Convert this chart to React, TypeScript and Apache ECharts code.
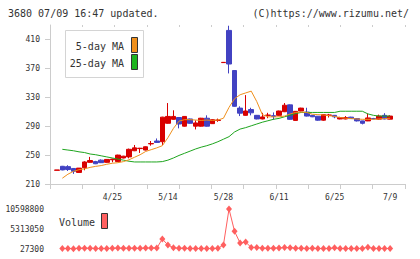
import React, { useEffect, useRef } from "react";
import * as echarts from "echarts";

const categories = [
  "4/11","4/12","4/15","4/16","4/17","4/18","4/19","4/22","4/23","4/24",
  "4/25","4/26","4/30","5/1","5/2","5/7","5/8","5/9","5/10","5/13",
  "5/14","5/15","5/16","5/17","5/20","5/21","5/22","5/23","5/24","5/27",
  "5/28","5/29","5/30","5/31","6/3","6/4","6/5","6/6","6/7","6/10",
  "6/11","6/12","6/13","6/14","6/17","6/18","6/19","6/20","6/21","6/24",
  "6/25","6/26","6/27","6/28","7/1","7/2","7/3","7/4","7/5","7/8","7/9",
];

// [open, close, low, high]
const ohlc = [
  [229, 229.4, 229, 229.4],
  [234.5, 229.5, 229, 235],
  [234, 230, 228, 236],
  [231.5, 227.5, 224, 232],
  [226, 232, 225.5, 232],
  [232.5, 240.5, 229, 241.5],
  [240, 242.5, 239.5, 247.5],
  [241, 238, 237.5, 242],
  [243, 239.5, 239, 244],
  [240, 244, 239.5, 244.5],
  [243.5, 244.5, 240, 245],
  [241, 250, 240.5, 250.5],
  [246, 248.5, 245.5, 249],
  [247.5, 258, 245.5, 259],
  [256, 260, 255.5, 264],
  [259, 259.5, 253, 260],
  [257, 261.5, 256.5, 262],
  [265.5, 266, 263, 269.5],
  [269.5, 267.5, 267, 273],
  [268.5, 302.5, 264, 303],
  [294, 303.5, 293.5, 322],
  [299.5, 303.5, 299, 312],
  [302, 293, 287, 302.5],
  [290, 303.5, 289.5, 304],
  [300, 294, 293.5, 300.5],
  [290, 294.5, 285.5, 298],
  [290, 301, 289.5, 301.5],
  [301, 290, 289.5, 305],
  [293.5, 299, 293, 299.5],
  [298, 298.5, 296, 300.5],
  [378, 378.3, 378, 378.3],
  [422.5, 376, 363, 429],
  [367, 317.5, 317, 367.5],
  [315, 308, 304, 317.5],
  [305, 311, 304.5, 333],
  [313, 308.5, 305, 315.5],
  [305, 300, 299.5, 305.5],
  [300, 302.8, 299.5, 308.5],
  [305, 305.3, 301, 308.5],
  [304.5, 303.5, 299, 309],
  [305, 311, 304.5, 311.5],
  [310, 319, 309.5, 322],
  [319.5, 299.5, 299, 320],
  [298, 310.5, 297.5, 311],
  [311, 315, 310.5, 315.5],
  [309.5, 304, 303.5, 315.5],
  [305, 303, 302.5, 305.5],
  [303.8, 298.3, 297.5, 304],
  [298.3, 306, 297.5, 306.5],
  [305, 305.5, 302, 307],
  [305, 303, 301, 305.5],
  [300, 302, 299.5, 303],
  [300, 302, 299.5, 304],
  [302.5, 300.5, 300, 303],
  [300.5, 297.3, 296.5, 301],
  [297.3, 294, 292.5, 297.5],
  [297.3, 301.4, 297, 307.5],
  [300.5, 300, 299.5, 301.5],
  [299.7, 304, 299, 306],
  [305, 300, 299.5, 308],
  [299.7, 304, 299.5, 305],
];

const ma5 = [
  null, 218, 223.5, 227.5, 229.8, 231, 233, 234.4, 235.5, 237.3,
  238.7, 239.5, 241, 243.5, 247, 250.5, 255, 257.5, 260, 263,
  274, 287, 297, 299, 299, 298.5, 298, 298.5, 298, 298.5,
  301, 316, 328, 333.5, 336, 338.5, 324, 306, 303, 302.8,
  303, 304, 307, 309, 309.5, 309, 306.5, 306, 305.5, 304.5,
  303.5, 302, 301, 300.5, 300, 299.5, 299.5, 299.5, 300, 300.5, 301,
];

const ma25 = [
  null, 258, 257, 256, 254.5, 253.5, 251.5, 250.5, 249, 247.5,
  246, 244.5, 243, 241.5, 240.5, 240.5, 240.5, 240.5, 240.5, 241,
  243, 246, 249.5, 252.5, 255.5, 258.5, 261, 263, 265.5, 268.5,
  272, 275.5, 282, 286, 288, 290.5, 293, 295.5, 297.5, 299.5,
  300.8, 303, 305, 307.5, 309, 309, 309, 309, 309, 309,
  309, 310.7, 310.7, 310.7, 310.7, 310.7, 307, 305, 304, 304, 304,
];

const volume = [
  null, 150000, 180000, 120000, 200000, 250000, 220000, 160000, 140000, 180000,
  200000, 260000, 210000, 240000, 230000, 200000, 280000, 300000, 260000, 2670000,
  1080000, 370000, 250000, 200000, 180000, 150000, 170000, 160000, 140000, 200000,
  1100000, 10598800, 4700000, 1600000, 1850000, 420000, 450000, 250000, 220000, 230000,
  300000, 420000, 380000, 250000, 200000, 180000, 230000, 170000, 150000, 180000,
  330000, 160000, 150000, 140000, 170000, 190000, 500000, 180000, 160000, 150000, 170000,
];

const priceTicks = [210, 250, 290, 330, 370, 410];
const volMin = 27300;
const volMax = 10598800;

const FONT = "DejaVu Sans Mono";
const AXIS = "#cccccc";
const TXT = "#333333";

export default function App() {
  const ref = useRef<HTMLDivElement>(null);
  useEffect(() => {
    if (!ref.current) return;
    const chart = echarts.init(ref.current, undefined, { renderer: "svg" });
    const labelText = { fontFamily: FONT, fontSize: 8, color: TXT };
    chart.setOption({
      animation: false,
      backgroundColor: "#ffffff",
      grid: [
        { left: 50, right: 15, top: 25, bottom: 75 },
        { left: 54, right: 27.1, top: 25, bottom: 75 },
        { left: 54, right: 27.1, top: 209, bottom: 10 },
      ],
      xAxis: [
        {
          gridIndex: 0, type: "value", min: 0, max: 11, interval: 1,
          axisLine: { show: true, lineStyle: { color: AXIS } },
          axisTick: { show: true, length: 5, lineStyle: { color: AXIS } },
          axisLabel: { show: false }, splitLine: { show: false },
        },
        {
          gridIndex: 0, type: "value", min: 0, max: 11, interval: 1,
          axisLine: { show: false },
          axisTick: { show: true, inside: true, length: 2, lineStyle: { color: AXIS } },
          axisLabel: { show: false }, splitLine: { show: false },
        },
        {
          gridIndex: 1, type: "category", data: categories, boundaryGap: true,
          axisLine: { show: false }, axisTick: { show: false },
          axisLabel: {
            ...labelText, margin: 9,
            interval: (idx: number) => idx > 0 && idx % 10 === 0,
          },
          splitLine: { show: false },
        },
        {
          gridIndex: 2, type: "category", data: categories, boundaryGap: true, show: false,
        },
      ],
      yAxis: [
        {
          gridIndex: 0, type: "value", min: 210, max: 430,
          axisLine: { show: true, lineStyle: { color: AXIS } },
          axisTick: { show: true, length: 5, customValues: priceTicks, lineStyle: { color: AXIS } },
          axisLabel: { ...labelText, margin: 10, customValues: priceTicks },
          splitLine: { show: false },
        },
        {
          gridIndex: 0, type: "value", min: 210, max: 430,
          axisLine: { show: false },
          axisTick: { show: true, inside: true, length: 3, customValues: priceTicks, lineStyle: { color: AXIS } },
          axisLabel: { show: false },
          splitLine: { show: false },
        },
        { gridIndex: 1, type: "value", min: 210, max: 430, show: false, splitLine: { show: false } },
        {
          gridIndex: 2, type: "value", min: volMin, max: volMax, interval: (volMax - volMin) / 2,
          axisLine: { show: false }, axisTick: { show: false },
          axisLabel: { ...labelText, margin: 10, formatter: (v: number) => String(Math.round(v)) },
          splitLine: { show: false },
        },
      ],
      series: [
        {
          type: "candlestick", xAxisIndex: 2, yAxisIndex: 2, data: ohlc,
          barWidth: 5,
          itemStyle: {
            color: "#d80000", color0: "#4242c2",
            borderColor: "#d80000", borderColor0: "#4242c2", borderWidth: 1,
          },
          z: 2,
        },
        {
          type: "line", xAxisIndex: 2, yAxisIndex: 2, data: ma25, symbol: "none",
          lineStyle: { color: "#1ea51e", width: 1 }, z: 3,
        },
        {
          type: "line", xAxisIndex: 2, yAxisIndex: 2, data: ma5, symbol: "none",
          lineStyle: { color: "#f0901c", width: 1 }, z: 4,
        },
        {
          type: "line", xAxisIndex: 3, yAxisIndex: 3, data: volume,
          symbol: "diamond", symbolSize: [6, 7], showAllSymbol: true,
          itemStyle: { color: "#ff5f5f" },
          lineStyle: { color: "#ff5f5f", width: 1 },
        },
      ],
      graphic: [
        {
          type: "text", left: 8, top: 8,
          style: { text: "3680 07/09 16:47 updated.", font: `10px '${FONT}'`, fill: TXT },
        },
        {
          type: "text", right: 11, top: 8,
          style: { text: "(C)https://www.rizumu.net/", font: `10px '${FONT}'`, fill: TXT },
        },
        {
          type: "rect", shape: { x: 65.5, y: 30.5, width: 78, height: 47 },
          style: { fill: "#ffffff", stroke: "#d4d4d4", lineWidth: 1 }, z: 10,
        },
        {
          type: "text", x: 124, y: 46, z: 11,
          style: { text: "5-day MA", font: `10px '${FONT}'`, fill: TXT, align: "right", verticalAlign: "middle" },
        },
        {
          type: "text", x: 124, y: 63, z: 11,
          style: { text: "25-day MA", font: `10px '${FONT}'`, fill: TXT, align: "right", verticalAlign: "middle" },
        },
        {
          type: "rect", shape: { x: 131.5, y: 37.5, width: 6, height: 15 }, z: 11,
          style: { fill: "#f0901c", stroke: "#333333", lineWidth: 1 },
        },
        {
          type: "rect", shape: { x: 131.5, y: 54.5, width: 6, height: 15 }, z: 11,
          style: { fill: "#1eb41e", stroke: "#333333", lineWidth: 1 },
        },
        {
          type: "text", x: 59, y: 222, z: 11,
          style: { text: "Volume", font: `10px '${FONT}'`, fill: TXT, verticalAlign: "middle" },
        },
        {
          type: "rect", shape: { x: 101.5, y: 213.5, width: 6, height: 15 }, z: 11,
          style: { fill: "#ff6060", stroke: "#333333", lineWidth: 1 },
        },
      ],
    });
    return () => chart.dispose();
  }, []);
  return (
    <div
      ref={ref}
      style={{ position: "fixed", left: 0, top: 0, width: 420, height: 259, background: "#fff" }}
    />
  );
}
